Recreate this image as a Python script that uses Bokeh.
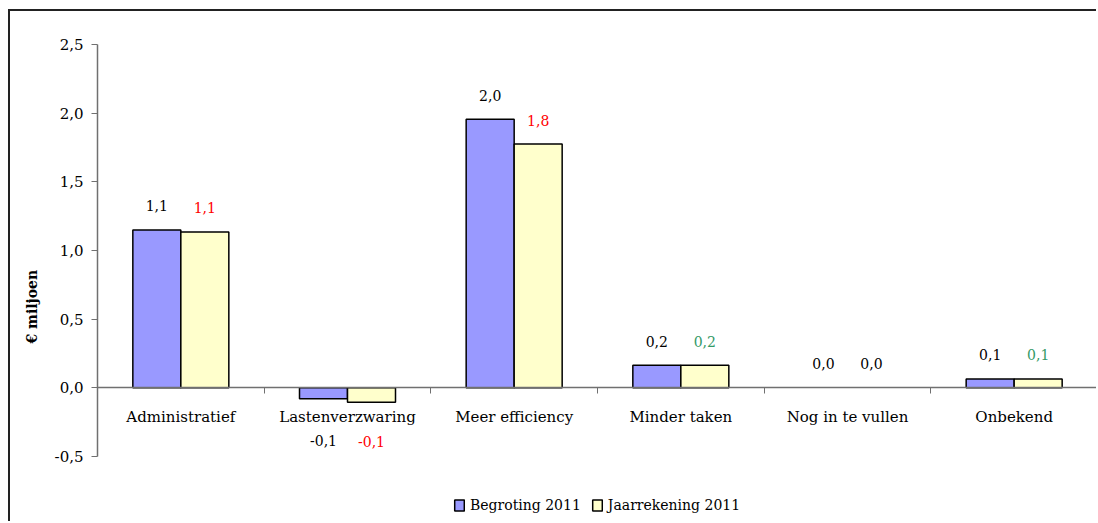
import math
from bokeh.plotting import figure
from bokeh.models import (Range1d, FixedTicker, Legend, LegendItem, Title,
                          ColumnDataSource)
from bokeh.core.properties import value
from bokeh.embed import file_html
from bokeh.resources import INLINE

categories = ["Administratief", "Lastenverzwaring", "Meer efficiency",
              "Minder taken", "Nog in te vullen", "Onbekend"]
begroting = [1.15, -0.08, 1.955, 0.165, 0.0, 0.065]
jaarrekening = [1.135, -0.105, 1.775, 0.165, 0.0, 0.065]
begroting_labels = ["1,1", "-0,1", "2,0", "0,2", "0,0", "0,1"]
jaarrekening_labels = ["1,1", "-0,1", "1,8", "0,2", "0,0", "0,1"]
jaarrekening_label_colors = ["#ff0000", "#ff0000", "#ff0000", "#339966", "#000000", "#339966"]
y_ticks = [-0.5, 0.0, 0.5, 1.0, 1.5, 2.0, 2.5]
y_tick_labels = ["-0,5", "0,0", "0,5", "1,0", "1,5", "2,0", "2,5"]

FONT = "DejaVu Serif"
BAR_W = 0.288

centers = [i + 0.5 for i in range(len(categories))]
src_b = ColumnDataSource(dict(
    x=[c - BAR_W / 2 for c in centers], top=begroting, label=begroting_labels,
    lc=["black" if v != 0 else None for v in begroting],
    yoff=[-24 if v >= 0 else 42 for v in begroting]))
src_j = ColumnDataSource(dict(
    x=[c + BAR_W / 2 for c in centers], top=jaarrekening, label=jaarrekening_labels,
    color=jaarrekening_label_colors,
    lc=["black" if v != 0 else None for v in jaarrekening],
    yoff=[-24 if v >= 0 else 39 for v in jaarrekening]))

# the frame runs to the bottom of the canvas so that the legend below the axis is visible;
# the axis itself is bounded to -0.5 .. 2.5
p = figure(width=1088, height=512, x_range=Range1d(0, 6), y_range=Range1d(-0.988, 2.5),
           output_backend="svg", toolbar_location=None,
           min_border_left=87, min_border_top=33, min_border_bottom=0, min_border_right=1)
p.styles = {"border-top": "2px solid #222222", "border-left": "2px solid #222222",
            "margin-left": "8px", "margin-top": "9px"}
p.outline_line_color = None
p.xgrid.visible = False
p.ygrid.visible = False
p.background_fill_color = "white"
p.border_fill_color = "white"

r_b = p.vbar(x="x", top="top", bottom=0, width=BAR_W, source=src_b,
             fill_color="#9999ff", line_color="lc", line_width=1.5)
r_j = p.vbar(x="x", top="top", bottom=0, width=BAR_W, source=src_j,
             fill_color="#ffffcc", line_color="lc", line_width=1.5)

p.text(x="x", y="top", text="label", y_offset="yoff", source=src_b,
       text_font=value(FONT), text_font_size="14px", text_color="black",
       text_align="center", text_baseline="middle")
p.text(x="x", y="top", text="label", y_offset="yoff", source=src_j,
       text_font=value(FONT), text_font_size="14px", text_color="color",
       text_align="center", text_baseline="middle")

# x axis at y = 0
xa = p.xaxis[0]
xa.fixed_location = 0
xa.ticker = FixedTicker(ticks=centers, minor_ticks=list(range(0, len(categories) + 1)))
xa.major_label_overrides = {c: n for c, n in zip(centers, categories)}
xa.major_tick_line_color = None
xa.minor_tick_in = 0
xa.minor_tick_out = 6
xa.minor_tick_line_color = "#707070"
xa.axis_line_color = "#707070"
xa.axis_line_width = 1.5
xa.major_label_text_font = FONT
xa.major_label_text_font_size = "15px"
xa.major_label_text_color = "black"
xa.major_label_standoff = 14

ya = p.yaxis[0]
ya.bounds = (-0.5, 2.5)
ya.ticker = FixedTicker(ticks=y_ticks, minor_ticks=[])
ya.major_label_overrides = {t: s for t, s in zip(y_ticks, y_tick_labels)}
ya.major_tick_in = 0
ya.major_tick_out = 6
ya.major_tick_line_color = "#707070"
ya.axis_line_color = "#707070"
ya.axis_line_width = 1.5
ya.major_label_text_font = FONT
ya.major_label_text_font_size = "15px"
ya.major_label_text_color = "black"
ya.major_label_standoff = 8

p.add_layout(Title(text="€ miljoen", align="left", offset=180, standoff=23,
                   text_font=FONT, text_font_size="14px", text_font_style="bold",
                   text_color="black"), "left")

legend = Legend(items=[LegendItem(label="Begroting 2011", renderers=[r_b]),
                       LegendItem(label="Jaarrekening 2011", renderers=[r_j])],
                orientation="horizontal", location=(356, 10),
                border_line_color=None, background_fill_alpha=0,
                label_text_font=FONT, label_text_font_size="14px",
                label_text_color="black",
                glyph_width=12, glyph_height=14, spacing=10, label_standoff=5,
                padding=0, margin=0)
p.add_layout(legend, "center")

open("out.html", "w").write(file_html(p, INLINE))
